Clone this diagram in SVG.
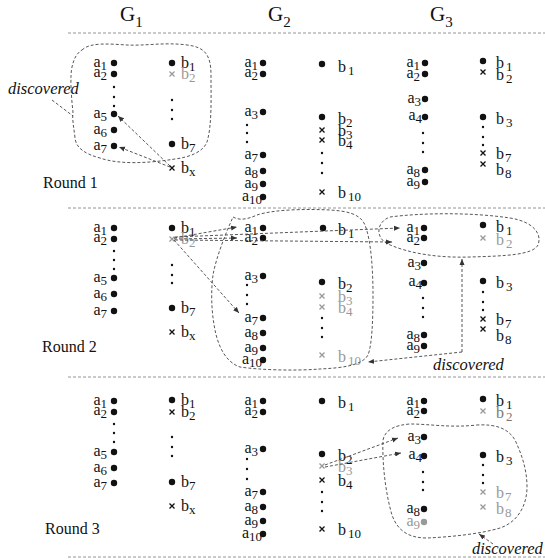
<svg xmlns="http://www.w3.org/2000/svg" xmlns:xlink="http://www.w3.org/1999/xlink" width="545" height="560" viewBox="0 0 545 560">
<style>
text{font-family:"Liberation Serif","Times New Roman",serif;fill:#111}
.l{font-size:16px}
.s{font-size:13px}
.h{font-size:21px}
.hs{font-size:15px}
.rl{font-size:16px}
.it{font-size:16.5px;font-style:italic}
.g{fill:#999}
.dt{fill:#111}
.dg{fill:#999}
.el{fill:#111}
.x{stroke:#111;stroke-width:1.3;fill:none}
.xg{stroke:#999;stroke-width:1.3;fill:none}
.sep{stroke:#888;stroke-width:0.9;stroke-dasharray:3 2;fill:none}
.c{stroke:#444;stroke-width:0.9;stroke-dasharray:3 2;fill:none}
.ca{stroke:#444;stroke-width:0.9;stroke-dasharray:3 2;fill:none;marker-end:url(#ah)}
</style>
<defs>
<marker id="ah" viewBox="0 0 6 6" refX="6" refY="3" markerWidth="6" markerHeight="6" markerUnits="userSpaceOnUse" orient="auto"><path d="M0,0.5 L6,3 L0,5.5 z" fill="#333"/></marker>
<circle id="d" r="3.2"/>
<circle id="e" r="1.2"/>
<path id="xm" d="M-2.5,-2.5L2.5,2.5M2.5,-2.5L-2.5,2.5"/>
</defs>

<g id="headers">
<text class="h" x="120" y="21">G<tspan class="hs" dy="6">1</tspan></text>
<text class="h" x="268" y="21">G<tspan class="hs" dy="6">2</tspan></text>
<text class="h" x="430" y="21">G<tspan class="hs" dy="6">3</tspan></text>
</g>

<g id="separators">
<line class="sep" x1="68" y1="33" x2="545" y2="33"/>
<line class="sep" x1="68" y1="208" x2="545" y2="208"/>
<line class="sep" x1="68" y1="377" x2="545" y2="377"/>
<line class="sep" x1="68" y1="557" x2="545" y2="557"/>
</g>

<g id="round-labels">
<text class="rl" x="43" y="188">Round 1</text>
<text class="rl" x="42" y="352">Round 2</text>
<text class="rl" x="45" y="534">Round 3</text>
<text class="it" x="8" y="94">discovered</text>
<text class="it" x="433" y="370">discovered</text>
<text class="it" x="472" y="554">discovered</text>
</g>

<!-- ROUND 1 -->
<g id="round1">
<g id="r1g1a1"><use href="#d" class="dt" x="114" y="63"/><text class="l" x="107" y="67" text-anchor="end">a<tspan class="s" dy="3">1</tspan></text></g>
<g id="r1g1a2"><use href="#d" class="dt" x="114" y="74"/><text class="l" x="107" y="77" text-anchor="end">a<tspan class="s" dy="3">2</tspan></text></g>
<g id="r1g1ae"><use href="#e" class="el" x="114" y="87"/><use href="#e" class="el" x="114" y="97"/><use href="#e" class="el" x="114" y="106"/></g>
<g id="r1g1a5"><use href="#d" class="dt" x="114" y="114"/><text class="l" x="107" y="118" text-anchor="end">a<tspan class="s" dy="3">5</tspan></text></g>
<g id="r1g1a6"><use href="#d" class="dt" x="114" y="130"/><text class="l" x="107" y="134" text-anchor="end">a<tspan class="s" dy="3">6</tspan></text></g>
<g id="r1g1a7"><use href="#d" class="dt" x="114" y="146"/><text class="l" x="107" y="150" text-anchor="end">a<tspan class="s" dy="3">7</tspan></text></g>
<g id="r1g1b1"><use href="#d" class="dt" x="172" y="63"/><text class="l" x="181" y="68">b<tspan class="s" dy="3">1</tspan></text></g>
<g id="r1g1b2"><use href="#xm" class="xg" x="172" y="74"/><text class="l g" x="181" y="79">b<tspan class="s" dy="3">2</tspan></text></g>
<g id="r1g1be"><use href="#e" class="el" x="172" y="100"/><use href="#e" class="el" x="172" y="110"/><use href="#e" class="el" x="172" y="119"/></g>
<g id="r1g1b7"><use href="#d" class="dt" x="172" y="144"/><text class="l" x="181" y="149">b<tspan class="s" dy="3">7</tspan></text></g>
<g id="r1g1bx"><use href="#xm" class="x" x="172" y="168"/><text class="l" x="181" y="173">b<tspan class="s" dy="3">x</tspan></text></g>

<g id="r1g2a1"><use href="#d" class="dt" x="263" y="63"/><text class="l" x="258" y="67" text-anchor="end">a<tspan class="s" dy="3">1</tspan></text></g>
<g id="r1g2a2"><use href="#d" class="dt" x="263" y="74"/><text class="l" x="258" y="77" text-anchor="end">a<tspan class="s" dy="3">2</tspan></text></g>
<g id="r1g2a3"><use href="#d" class="dt" x="263" y="112"/><text class="l" x="258" y="116" text-anchor="end">a<tspan class="s" dy="3">3</tspan></text></g>
<g id="r1g2ae"><use href="#e" class="el" x="247" y="125"/><use href="#e" class="el" x="247" y="133"/><use href="#e" class="el" x="247" y="142"/></g>
<g id="r1g2a7"><use href="#d" class="dt" x="263" y="155"/><text class="l" x="258" y="159" text-anchor="end">a<tspan class="s" dy="3">7</tspan></text></g>
<g id="r1g2a8"><use href="#d" class="dt" x="263" y="171"/><text class="l" x="258" y="175" text-anchor="end">a<tspan class="s" dy="3">8</tspan></text></g>
<g id="r1g2a9"><use href="#d" class="dt" x="263" y="184"/><text class="l" x="258" y="188" text-anchor="end">a<tspan class="s" dy="3">9</tspan></text></g>
<g id="r1g2a10"><use href="#d" class="dt" x="263" y="197"/><text class="l" x="262" y="201" text-anchor="end">a<tspan class="s" dy="3">10</tspan></text></g>
<g id="r1g2b1"><use href="#d" class="dt" x="322" y="64"/><text class="l" x="338" y="72">b<tspan class="s" dx="2" dy="3">1</tspan></text></g>
<g id="r1g2b2"><use href="#d" class="dt" x="322" y="117"/><text class="l" x="338" y="124">b<tspan class="s" dy="3">2</tspan></text></g>
<g id="r1g2b3"><use href="#xm" class="x" x="322" y="130"/><text class="l" x="338" y="136">b<tspan class="s" dy="3">3</tspan></text></g>
<g id="r1g2b4"><use href="#xm" class="x" x="322" y="140"/><text class="l" x="338" y="146">b<tspan class="s" dy="3">4</tspan></text></g>
<g id="r1g2be"><use href="#e" class="el" x="322" y="153"/><use href="#e" class="el" x="322" y="163"/><use href="#e" class="el" x="322" y="173"/></g>
<g id="r1g2b10"><use href="#xm" class="x" x="322" y="192"/><text class="l" x="338" y="198">b<tspan class="s" dx="2" dy="3">10</tspan></text></g>

<g id="r1g3a1"><use href="#d" class="dt" x="425" y="63"/><text class="l" x="420" y="67" text-anchor="end">a<tspan class="s" dy="3">1</tspan></text></g>
<g id="r1g3a2"><use href="#d" class="dt" x="425" y="74"/><text class="l" x="420" y="78" text-anchor="end">a<tspan class="s" dy="3">2</tspan></text></g>
<g id="r1g3a3"><use href="#d" class="dt" x="425" y="99"/><text class="l" x="421" y="103" text-anchor="end">a<tspan class="s" dy="3">3</tspan></text></g>
<g id="r1g3a4"><use href="#d" class="dt" x="425" y="117"/><text class="l" x="422" y="120" text-anchor="end">a<tspan class="s" dy="3">4</tspan></text></g>
<g id="r1g3ae"><use href="#e" class="el" x="423" y="133"/><use href="#e" class="el" x="423" y="143"/><use href="#e" class="el" x="423" y="152"/></g>
<g id="r1g3a8"><use href="#d" class="dt" x="425" y="170"/><text class="l" x="420" y="174" text-anchor="end">a<tspan class="s" dy="3">8</tspan></text></g>
<g id="r1g3a9"><use href="#d" class="dt" x="425" y="182"/><text class="l" x="420" y="186" text-anchor="end">a<tspan class="s" dy="3">9</tspan></text></g>
<g id="r1g3b1"><use href="#d" class="dt" x="483" y="61"/><text class="l" x="496" y="68">b<tspan class="s" dx="2" dy="3">1</tspan></text></g>
<g id="r1g3b2"><use href="#xm" class="x" x="483" y="72"/><text class="l" x="496" y="80">b<tspan class="s" dx="2" dy="3">2</tspan></text></g>
<g id="r1g3b3"><use href="#d" class="dt" x="483" y="117"/><text class="l" x="496" y="124">b<tspan class="s" dx="2" dy="3">3</tspan></text></g>
<g id="r1g3be"><use href="#e" class="el" x="483" y="127"/><use href="#e" class="el" x="483" y="137"/><use href="#e" class="el" x="483" y="145"/></g>
<g id="r1g3b7"><use href="#xm" class="x" x="483" y="153"/><text class="l" x="496" y="159">b<tspan class="s" dx="1" dy="3">7</tspan></text></g>
<g id="r1g3b8"><use href="#xm" class="x" x="483" y="164"/><text class="l" x="496" y="175">b<tspan class="s" dx="1" dy="3">8</tspan></text></g>
</g>

<!-- ROUND 2 -->
<g id="round2" transform="translate(0,165)">
<g id="r2g1a1"><use href="#d" class="dt" x="114" y="63"/><text class="l" x="107" y="67" text-anchor="end">a<tspan class="s" dy="3">1</tspan></text></g>
<g id="r2g1a2"><use href="#d" class="dt" x="114" y="74"/><text class="l" x="107" y="77" text-anchor="end">a<tspan class="s" dy="3">2</tspan></text></g>
<g id="r2g1ae"><use href="#e" class="el" x="114" y="86"/><use href="#e" class="el" x="114" y="95"/><use href="#e" class="el" x="114" y="104"/></g>
<g id="r2g1a5"><use href="#d" class="dt" x="114" y="113"/><text class="l" x="107" y="117" text-anchor="end">a<tspan class="s" dy="3">5</tspan></text></g>
<g id="r2g1a6"><use href="#d" class="dt" x="114" y="129"/><text class="l" x="107" y="133" text-anchor="end">a<tspan class="s" dy="3">6</tspan></text></g>
<g id="r2g1a7"><use href="#d" class="dt" x="114" y="146"/><text class="l" x="107" y="150" text-anchor="end">a<tspan class="s" dy="3">7</tspan></text></g>
<g id="r2g1b1"><use href="#d" class="dt" x="172" y="63"/><text class="l" x="181" y="68">b<tspan class="s" dy="3">1</tspan></text></g>
<g id="r2g1b2"><use href="#xm" class="xg" x="172" y="74"/><text class="l g" x="181" y="79">b<tspan class="s" dy="3">2</tspan></text></g>
<g id="r2g1be"><use href="#e" class="el" x="172" y="100"/><use href="#e" class="el" x="172" y="110"/><use href="#e" class="el" x="172" y="118"/></g>
<g id="r2g1b7"><use href="#d" class="dt" x="172" y="143"/><text class="l" x="181" y="148">b<tspan class="s" dy="3">7</tspan></text></g>
<g id="r2g1bx"><use href="#xm" class="x" x="172" y="167"/><text class="l" x="181" y="172">b<tspan class="s" dy="3">x</tspan></text></g>

<g id="r2g2a1"><use href="#d" class="dt" x="263" y="63"/><text class="l" x="258" y="67" text-anchor="end">a<tspan class="s" dy="3">1</tspan></text></g>
<g id="r2g2a2"><use href="#d" class="dt" x="263" y="73"/><text class="l" x="258" y="77" text-anchor="end">a<tspan class="s" dy="3">2</tspan></text></g>
<g id="r2g2a3"><use href="#d" class="dt" x="263" y="111"/><text class="l" x="258" y="115" text-anchor="end">a<tspan class="s" dy="3">3</tspan></text></g>
<g id="r2g2ae"><use href="#e" class="el" x="247" y="120"/><use href="#e" class="el" x="247" y="130"/><use href="#e" class="el" x="247" y="139"/></g>
<g id="r2g2a7"><use href="#d" class="dt" x="263" y="153"/><text class="l" x="258" y="157" text-anchor="end">a<tspan class="s" dy="3">7</tspan></text></g>
<g id="r2g2a8"><use href="#d" class="dt" x="263" y="168"/><text class="l" x="258" y="172" text-anchor="end">a<tspan class="s" dy="3">8</tspan></text></g>
<g id="r2g2a9"><use href="#d" class="dt" x="263" y="183"/><text class="l" x="258" y="187" text-anchor="end">a<tspan class="s" dy="3">9</tspan></text></g>
<g id="r2g2a10"><use href="#d" class="dt" x="263" y="195"/><text class="l" x="262" y="199" text-anchor="end">a<tspan class="s" dy="3">10</tspan></text></g>
<g id="r2g2b1"><use href="#d" class="dt" x="323" y="63"/><text class="l" x="338" y="70">b<tspan class="s" dx="2" dy="3">1</tspan></text></g>
<g id="r2g2b2"><use href="#d" class="dt" x="322" y="117"/><text class="l" x="338" y="124">b<tspan class="s" dy="3">2</tspan></text></g>
<g id="r2g2b3"><use href="#xm" class="xg" x="322" y="131"/><text class="l g" x="338" y="137">b<tspan class="s" dy="3">3</tspan></text></g>
<g id="r2g2b4"><use href="#xm" class="xg" x="322" y="142"/><text class="l g" x="338" y="148">b<tspan class="s" dy="3">4</tspan></text></g>
<g id="r2g2be"><use href="#e" class="el" x="322" y="153"/><use href="#e" class="el" x="322" y="163"/><use href="#e" class="el" x="322" y="172"/></g>
<g id="r2g2b10"><use href="#xm" class="xg" x="322" y="190"/><text class="l g" x="338" y="197">b<tspan class="s" dx="2" dy="3">10</tspan></text></g>

<g id="r2g3a1"><use href="#d" class="dt" x="424" y="63"/><text class="l" x="420" y="67" text-anchor="end">a<tspan class="s" dy="3">1</tspan></text></g>
<g id="r2g3a2"><use href="#d" class="dt" x="424" y="73"/><text class="l" x="420" y="77" text-anchor="end">a<tspan class="s" dy="3">2</tspan></text></g>
<g id="r2g3a3"><use href="#d" class="dt" x="424" y="98"/><text class="l" x="421" y="102" text-anchor="end">a<tspan class="s" dy="3">3</tspan></text></g>
<g id="r2g3a4"><use href="#d" class="dt" x="424" y="118"/><text class="l" x="422" y="121" text-anchor="end">a<tspan class="s" dy="3">4</tspan></text></g>
<g id="r2g3ae"><use href="#e" class="el" x="423" y="133"/><use href="#e" class="el" x="423" y="143"/><use href="#e" class="el" x="423" y="152"/></g>
<g id="r2g3a8"><use href="#d" class="dt" x="424" y="170"/><text class="l" x="420" y="174" text-anchor="end">a<tspan class="s" dy="3">8</tspan></text></g>
<g id="r2g3a9"><use href="#d" class="dt" x="424" y="181"/><text class="l" x="420" y="185" text-anchor="end">a<tspan class="s" dy="3">9</tspan></text></g>
<g id="r2g3b1"><use href="#d" class="dt" x="483" y="60"/><text class="l" x="496" y="67">b<tspan class="s" dx="2" dy="3">1</tspan></text></g>
<g id="r2g3b2"><use href="#xm" class="xg" x="483" y="73"/><text class="l g" x="496" y="80">b<tspan class="s" dx="2" dy="3">2</tspan></text></g>
<g id="r2g3b3"><use href="#d" class="dt" x="483" y="116"/><text class="l" x="496" y="123">b<tspan class="s" dx="2" dy="3">3</tspan></text></g>
<g id="r2g3be"><use href="#e" class="el" x="483" y="127"/><use href="#e" class="el" x="483" y="137"/><use href="#e" class="el" x="483" y="145"/></g>
<g id="r2g3b7"><use href="#xm" class="x" x="483" y="154"/><text class="l" x="496" y="160">b<tspan class="s" dx="1" dy="3">7</tspan></text></g>
<g id="r2g3b8"><use href="#xm" class="x" x="483" y="164"/><text class="l" x="496" y="176">b<tspan class="s" dx="1" dy="3">8</tspan></text></g>
</g>

<!-- ROUND 3 -->
<g id="round3" transform="translate(0,338)">
<g id="r3g1a1"><use href="#d" class="dt" x="114" y="63"/><text class="l" x="107" y="67" text-anchor="end">a<tspan class="s" dy="3">1</tspan></text></g>
<g id="r3g1a2"><use href="#d" class="dt" x="114" y="74"/><text class="l" x="107" y="77" text-anchor="end">a<tspan class="s" dy="3">2</tspan></text></g>
<g id="r3g1ae"><use href="#e" class="el" x="114" y="86"/><use href="#e" class="el" x="114" y="95"/><use href="#e" class="el" x="114" y="104"/></g>
<g id="r3g1a5"><use href="#d" class="dt" x="114" y="114"/><text class="l" x="107" y="118" text-anchor="end">a<tspan class="s" dy="3">5</tspan></text></g>
<g id="r3g1a6"><use href="#d" class="dt" x="114" y="130"/><text class="l" x="107" y="134" text-anchor="end">a<tspan class="s" dy="3">6</tspan></text></g>
<g id="r3g1a7"><use href="#d" class="dt" x="114" y="145"/><text class="l" x="107" y="149" text-anchor="end">a<tspan class="s" dy="3">7</tspan></text></g>
<g id="r3g1b1"><use href="#d" class="dt" x="172" y="62"/><text class="l" x="181" y="67">b<tspan class="s" dy="3">1</tspan></text></g>
<g id="r3g1b2"><use href="#xm" class="x" x="172" y="74"/><text class="l" x="181" y="79">b<tspan class="s" dy="3">2</tspan></text></g>
<g id="r3g1be"><use href="#e" class="el" x="172" y="99"/><use href="#e" class="el" x="172" y="109"/><use href="#e" class="el" x="172" y="118"/></g>
<g id="r3g1b7"><use href="#d" class="dt" x="172" y="144"/><text class="l" x="181" y="149">b<tspan class="s" dy="3">7</tspan></text></g>
<g id="r3g1bx"><use href="#xm" class="x" x="172" y="168"/><text class="l" x="181" y="173">b<tspan class="s" dy="3">x</tspan></text></g>

<g id="r3g2a1"><use href="#d" class="dt" x="263" y="63"/><text class="l" x="258" y="67" text-anchor="end">a<tspan class="s" dy="3">1</tspan></text></g>
<g id="r3g2a2"><use href="#d" class="dt" x="263" y="74"/><text class="l" x="258" y="77" text-anchor="end">a<tspan class="s" dy="3">2</tspan></text></g>
<g id="r3g2a3"><use href="#d" class="dt" x="263" y="111"/><text class="l" x="258" y="115" text-anchor="end">a<tspan class="s" dy="3">3</tspan></text></g>
<g id="r3g2ae"><use href="#e" class="el" x="247" y="121"/><use href="#e" class="el" x="247" y="131"/><use href="#e" class="el" x="247" y="141"/></g>
<g id="r3g2a7"><use href="#d" class="dt" x="263" y="154"/><text class="l" x="258" y="158" text-anchor="end">a<tspan class="s" dy="3">7</tspan></text></g>
<g id="r3g2a8"><use href="#d" class="dt" x="263" y="169"/><text class="l" x="258" y="173" text-anchor="end">a<tspan class="s" dy="3">8</tspan></text></g>
<g id="r3g2a9"><use href="#d" class="dt" x="263" y="183"/><text class="l" x="258" y="187" text-anchor="end">a<tspan class="s" dy="3">9</tspan></text></g>
<g id="r3g2a10"><use href="#d" class="dt" x="263" y="196"/><text class="l" x="262" y="200" text-anchor="end">a<tspan class="s" dy="3">10</tspan></text></g>
<g id="r3g2b1"><use href="#d" class="dt" x="322" y="63"/><text class="l" x="338" y="70">b<tspan class="s" dx="2" dy="3">1</tspan></text></g>
<g id="r3g2b2"><use href="#d" class="dt" x="322" y="116"/><text class="l" x="338" y="123">b<tspan class="s" dy="3">2</tspan></text></g>
<g id="r3g2b3"><use href="#xm" class="xg" x="322" y="128"/><text class="l g" x="338" y="134">b<tspan class="s" dy="3">3</tspan></text></g>
<g id="r3g2b4"><use href="#xm" class="x" x="322" y="142"/><text class="l" x="338" y="148">b<tspan class="s" dy="3">4</tspan></text></g>
<g id="r3g2be"><use href="#e" class="el" x="322" y="154"/><use href="#e" class="el" x="322" y="164"/><use href="#e" class="el" x="322" y="173"/></g>
<g id="r3g2b10"><use href="#xm" class="x" x="322" y="191"/><text class="l" x="338" y="197">b<tspan class="s" dx="2" dy="3">10</tspan></text></g>

<g id="r3g3a1"><use href="#d" class="dt" x="424" y="63"/><text class="l" x="420" y="67" text-anchor="end">a<tspan class="s" dy="3">1</tspan></text></g>
<g id="r3g3a2"><use href="#d" class="dt" x="424" y="73"/><text class="l" x="420" y="77" text-anchor="end">a<tspan class="s" dy="3">2</tspan></text></g>
<g id="r3g3a3"><use href="#d" class="dt" x="424" y="99"/><text class="l" x="421" y="103" text-anchor="end">a<tspan class="s" dy="3">3</tspan></text></g>
<g id="r3g3a4"><use href="#d" class="dt" x="424" y="118"/><text class="l" x="422" y="121" text-anchor="end">a<tspan class="s" dy="3">4</tspan></text></g>
<g id="r3g3ae"><use href="#e" class="el" x="423" y="134"/><use href="#e" class="el" x="423" y="144"/><use href="#e" class="el" x="423" y="152"/></g>
<g id="r3g3a8"><use href="#d" class="dt" x="424" y="171"/><text class="l" x="420" y="175" text-anchor="end">a<tspan class="s" dy="3">8</tspan></text></g>
<g id="r3g3a9"><use href="#d" class="dg" x="424" y="184"/><text class="l g" x="420" y="188" text-anchor="end">a<tspan class="s" dy="3">9</tspan></text></g>
<g id="r3g3b1"><use href="#d" class="dt" x="483" y="61"/><text class="l" x="496" y="68">b<tspan class="s" dx="2" dy="3">1</tspan></text></g>
<g id="r3g3b2"><use href="#xm" class="xg" x="483" y="73"/><text class="l" x="496" y="80" fill="#777" style="fill:#777">b<tspan class="s" dx="2" dy="3">2</tspan></text></g>
<g id="r3g3b3"><use href="#d" class="dt" x="483" y="117"/><text class="l" x="496" y="124">b<tspan class="s" dx="2" dy="3">3</tspan></text></g>
<g id="r3g3be"><use href="#e" class="el" x="483" y="127"/><use href="#e" class="el" x="483" y="137"/><use href="#e" class="el" x="483" y="145"/></g>
<g id="r3g3b7"><use href="#xm" class="xg" x="483" y="154"/><text class="l g" x="496" y="160">b<tspan class="s" dx="1" dy="3">7</tspan></text></g>
<g id="r3g3b8"><use href="#xm" class="xg" x="483" y="169"/><text class="l g" x="496" y="176">b<tspan class="s" dx="1" dy="3">8</tspan></text></g>
</g>

<g id="connectors">
<!-- round 1 -->
<path class="c" d="M82,50 C90,42 110,44 127,45 C145,46 165,42 187,45 C205,47 211,55 211,75 C211,100 212,125 207,142 C203,152 190,157 175,159 C150,163 120,165 100,158 C85,154 76,148 75,138 C74,128 72,120 73,112 C71,95 70,75 72,67 C74,58 77,53 82,50 Z"/>
<path class="c" d="M52,100 L73,116"/>
<path class="ca" d="M170,166 L118,116"/>
<path class="ca" d="M170,167 L119,147"/>
<!-- round 2 -->
<path class="c" d="M233,217 C240,221 248,219 257,215 C275,209 310,209 330,210 C345,211 360,213 365,225 C371,240 373,270 373,295 C373,320 372,345 368,355 C362,366 340,368 320,369 C295,371 260,370 240,367 C225,362 218,345 215,330 C211,310 211,290 213,275 C216,258 225,235 233,217 Z"/>
<path class="c" d="M390,217 C420,213 470,212 510,218 C535,222 542,235 538,245 C533,255 505,256 470,257 C440,258 410,254 388,244 C375,238 376,222 390,217 Z"/>
<path class="ca" d="M174,238 L237,227"/>
<path class="ca" d="M174,239 L237,238"/>
<path class="ca" d="M175,237 L400,228"/>
<path class="ca" d="M175,240 L392,242"/>
<path class="ca" d="M174,240 L239,313"/>
<path class="ca" d="M462,352 L462,259"/>
<path class="ca" d="M462,352 L368,362"/>
<!-- round 3 -->
<path class="c" d="M383,440 C385,430 395,425 410,424 C430,424 450,428 477,425 C495,424 508,428 515,440 C522,455 527,470 527,487 C527,505 518,522 500,528 C480,534 450,537 427,538 C410,538 398,532 392,515 C386,495 382,465 383,440 Z"/>
<path class="ca" d="M325,465 L398,438"/>
<path class="ca" d="M325,467 L401,453"/>
<path class="ca" d="M493,544 L479,534"/>
</g>
</svg>
